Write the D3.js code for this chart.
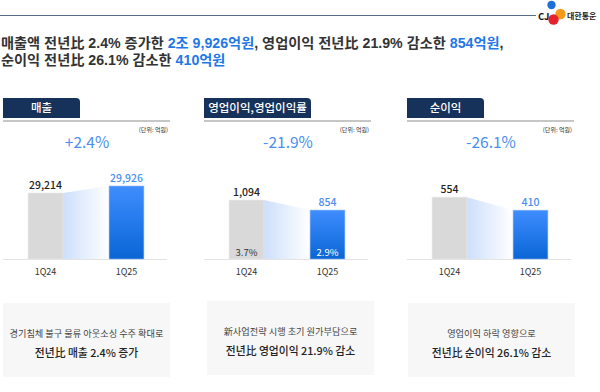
<!DOCTYPE html>
<html><head><meta charset="utf-8">
<script src="https://cdn.jsdelivr.net/npm/d3@7"></script>
<style>
html,body{margin:0;padding:0;background:#fff;}
svg{display:block;font-family:"Noto Sans CJK KR","Noto Sans",sans-serif;}
.ttl{font-family:"Liberation Sans","Noto Sans CJK KR",sans-serif;}
</style></head>
<body>
<svg id="c" width="600" height="392"></svg>
<script>
// ---- data ----
const categories = ["1Q24", "1Q25"];
const panelTitles = ["매출", "영업이익,영업이익률", "순이익"];
const revenue = [29214, 29926];
const operatingProfit = [1094, 854];
const operatingMargin = ["3.7%", "2.9%"];
const netIncome = [554, 410];
const changeLabels = ["+2.4%", "-21.9%", "-26.1%"];
const unitLabel = "(단위: 억원)";
const titleLine1 = [["매출액 전년比 2.4% 증가한 ",0],["2조 9,926억원",1],[", 영업이익 전년比 21.9% 감소한 ",0],["854억원",1],[",",0]];
const titleLine2 = [["순이익 전년比 26.1% 감소한 ",0],["410억원",1]];
const noteLine1 = ["경기침체 불구 물류 아웃소싱 수주 확대로", "新사업전략 시행 초기 원가부담으로", "영업이익 하락 영향으로"];
const noteLine2 = ["전년比 매출 2.4% 증가", "전년比 영업이익 21.9% 감소", "전년比 순이익 26.1% 감소"];

const svg = d3.select("#c");
const blue = "#4a8ff0";

// defs
const defs = svg.append("defs");
const gBar = defs.append("linearGradient").attr("id","gBar").attr("x1",0).attr("y1",0).attr("x2",0).attr("y2",1);
gBar.append("stop").attr("offset","0%").attr("stop-color","#3f8dff");
gBar.append("stop").attr("offset","100%").attr("stop-color","#0a66d4");
const gCon = defs.append("linearGradient").attr("id","gCon").attr("x1",0).attr("y1",0).attr("x2",1).attr("y2",0);
gCon.append("stop").attr("offset","0%").attr("stop-color","#cddffb");
gCon.append("stop").attr("offset","100%").attr("stop-color","#ffffff");

// header line + logo
svg.append("line").attr("x1",0).attr("x2",536).attr("y1",15.5).attr("y2",15.5).attr("stroke","#5b6b8c").attr("stroke-width",1);
svg.append("text").attr("x",538).attr("y",19.5).attr("font-size",9.5).attr("font-weight",700).attr("fill","#111").text("CJ");
svg.append("circle").attr("cx",551.5).attr("cy",5).attr("r",4.2).attr("fill","#1f6fd8");
svg.append("circle").attr("cx",560.5).attr("cy",14).attr("r",5.2).attr("fill","#f39a1a");
svg.append("circle").attr("cx",553.5).attr("cy",19.5).attr("r",5.2).attr("fill","#e5222b");
svg.append("text").attr("x",567).attr("y",18.5).attr("font-size",8).attr("font-weight",700).attr("fill","#222").text("대한통운");

// title: two text lines made of coloured runs
function titleLine(parts, yPos){
  const t = svg.append("text").attr("class","ttl").attr("x",1).attr("y",yPos).attr("font-size",14.2).attr("font-weight",600)
    .attr("fill","#333").attr("xml:space","preserve").style("white-space","pre");
  parts.forEach(([s,hl])=>t.append("tspan").attr("fill",hl?"#1f78e6":"#333").text(s));
}
titleLine(titleLine1, 48);
titleLine(titleLine2, 65);

// panels
const panels = [
  {x:3, title:panelTitles[0], tabW:77, values:revenue, domain:[22500,30640], inner:null},
  {x:204, title:panelTitles[1], tabW:107, values:operatingProfit, domain:[-320,1600], inner:operatingMargin},
  {x:407, title:panelTitles[2], tabW:77, values:netIncome, domain:[-130,755], inner:null}
];
const base = 259;
const xBand = d3.scaleBand().domain(categories).range([0,166]).paddingInner(0.57).paddingOuter(0.31);
const fmt = d3.format(",");

panels.forEach((p,i)=>{
  const g = svg.append("g").attr("transform",`translate(${p.x},0)`);
  const r=4, w=p.tabW, y0=98, y1=118;
  g.append("path").attr("d",`M0,${y0} H${w-r} Q${w},${y0} ${w},${y0+r} V${y1} H0 Z`).attr("fill","#17325a");
  g.append("text").attr("x",w/2).attr("y",112).attr("text-anchor","middle").attr("font-size",11.5).attr("font-weight",500).attr("fill","#fff").text(p.title);
  g.append("rect").attr("x",0).attr("y",120).attr("width",167).attr("height",2).attr("fill","#c6c6c6");
  g.append("text").attr("x",165).attr("y",132).attr("text-anchor","end").attr("font-size",6).attr("fill","#333").text(unitLabel);
  g.append("text").attr("x",84).attr("y",147.5).attr("text-anchor","middle").attr("font-size",15.5).attr("fill",blue).text(changeLabels[i]);

  const y = d3.scaleLinear().domain(p.domain).range([base, 179]);
  const c0 = categories[0], c1 = categories[1];
  const bw = xBand.bandwidth();
  g.append("path").attr("d",`M${xBand(c0)+bw},${y(p.values[0])} L${xBand(c1)},${y(p.values[1])} L${xBand(c1)},${base} L${xBand(c0)+bw},${base} Z`).attr("fill","url(#gCon)");
  g.append("line").attr("x1",0).attr("x2",164).attr("y1",base+0.5).attr("y2",base+0.5).attr("stroke","#e3e3e3");
  g.selectAll("rect.bar").data(p.values).join("rect").attr("class","bar")
    .attr("x",(d,j)=>xBand(categories[j])).attr("y",d=>y(d))
    .attr("width",bw).attr("height",d=>base-y(d))
    .attr("fill",(d,j)=>j===0?"#d9d9d9":"url(#gBar)")
    .attr("stroke",(d,j)=>j===0?"#e6e6e6":"#8db6f3").attr("stroke-width",0.6);
  g.selectAll("text.val").data(p.values).join("text").attr("class","val")
    .attr("x",(d,j)=>xBand(categories[j])+bw/2).attr("y",d=>y(d)-4)
    .attr("text-anchor","middle").attr("font-size",10.5).attr("font-weight",500)
    .attr("fill",(d,j)=>j===0?"#222":blue).text(d=>fmt(d));
  if(p.inner){
    g.selectAll("text.inn").data(p.inner).join("text").attr("class","inn")
      .attr("x",(d,j)=>xBand(categories[j])+bw/2).attr("y",base-3)
      .attr("text-anchor","middle").attr("font-size",9.5)
      .attr("fill",(d,j)=>j===0?"#333":"#fff").text(d=>d);
  }
  g.selectAll("text.cat").data(categories).join("text").attr("class","cat")
    .attr("x",d=>xBand(d)+bw/2).attr("y",275)
    .attr("text-anchor","middle").attr("font-size",9).attr("fill","#333").text(d=>d);
});

// bottom note boxes
const boxes = [{x:3,y:303},{x:207,y:301},{x:408,y:303}];
boxes.forEach((b,i)=>{
  const g = svg.append("g").attr("transform",`translate(${b.x},${b.y})`);
  g.append("rect").attr("width",167).attr("height",74).attr("fill","#f7f7f7");
  g.append("text").attr("x",83.5).attr("y",33.5).attr("text-anchor","middle").attr("font-size",9.2).attr("fill","#444").text(noteLine1[i]);
  g.append("text").attr("x",83.5).attr("y",53.5).attr("text-anchor","middle").attr("font-size",10.8).attr("font-weight",500).attr("fill","#222").text(noteLine2[i]);
});
</script>
</body></html>
